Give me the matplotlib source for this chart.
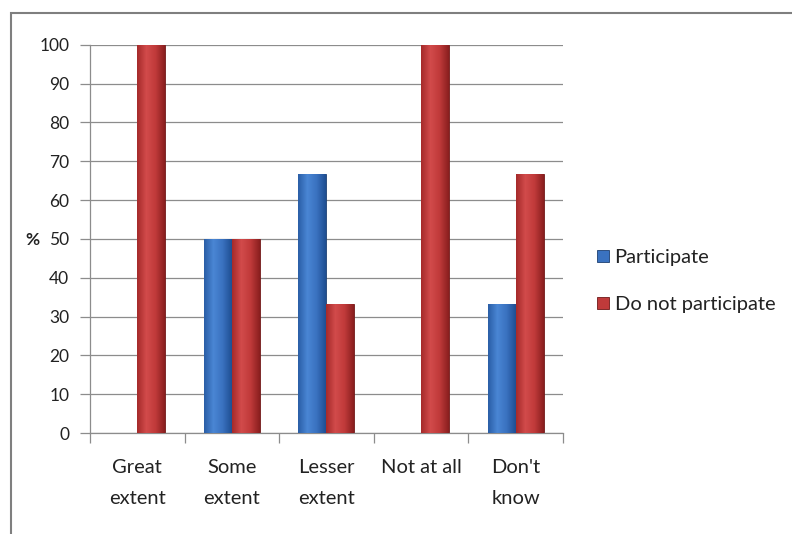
import numpy as np
import matplotlib
matplotlib.use("Agg")
import matplotlib.pyplot as plt
from matplotlib.patches import Rectangle
from matplotlib.colors import LinearSegmentedColormap

plt.rcParams["font.family"] = ["Lato", "DejaVu Sans"]

categories = ["Great\nextent", "Some\nextent", "Lesser\nextent", "Not at all", "Don't\nknow"]
participate = [0, 50, 66.7, 0, 33.3]
not_participate = [100, 50, 33.3, 100, 66.7]
yticks = list(range(0, 101, 10))

BLUE = ["#2a5ea6", "#4a86d4", "#3a72c0", "#1f4f92"]
RED = ["#a52a2a", "#d24b4b", "#c03a3a", "#8a1f1f"]


def gradient_bars(ax, bars, stops):
    cmap = LinearSegmentedColormap.from_list("g", stops)
    grad = np.linspace(0, 1, 64).reshape(1, -1)
    for b in bars:
        if b.get_height() <= 0:
            continue
        x0, y0 = b.get_x(), b.get_y()
        im = ax.imshow(grad, cmap=cmap, aspect="auto", zorder=3,
                       extent=[x0, x0 + b.get_width(), y0, y0 + b.get_height()])
        im.set_clip_path(b)


fig = plt.figure(figsize=(7.92, 5.34), dpi=100)
ax = fig.add_axes([0.1136, 0.189, 0.597, 0.727])

x = np.arange(len(categories))
w = 0.296
b1 = ax.bar(x - w / 2, participate, w, color=BLUE[2], edgecolor="#1d3f70",
            linewidth=0.6, zorder=2, label="Participate")
b2 = ax.bar(x + w / 2, not_participate, w, color=RED[2], edgecolor="#6e1818",
            linewidth=0.6, zorder=2, label="Do not participate")
gradient_bars(ax, b1, BLUE)
gradient_bars(ax, b2, RED)

ax.set_xlim(-0.5, len(categories) - 0.5)
ax.set_ylim(0, 100)
ax.set_yticks(yticks)
ax.yaxis.grid(True, color="#8c8c8c", linewidth=0.9)
ax.set_axisbelow(True)
for s in ["top", "right"]:
    ax.spines[s].set_visible(False)
for s in ["left", "bottom"]:
    ax.spines[s].set_color("#8c8c8c")
    ax.spines[s].set_linewidth(0.9)

ax.set_xticks(np.arange(-0.5, len(categories), 1.0))
ax.set_xticklabels([])
ax.set_xticks(x, minor=True)
ax.set_xticklabels(categories, minor=True, fontsize=14.5, color="#222222",
                   linespacing=2.0, va="top")
ax.tick_params(axis="x", which="major", length=7, color="#8c8c8c", width=0.9)
ax.tick_params(axis="x", which="minor", length=0, pad=19)
ax.tick_params(axis="y", length=7, color="#8c8c8c", width=0.9, pad=8,
               labelsize=12.5, labelcolor="#222222")

fig.text(0.041, 1 - 240 / 534, "%", fontsize=12.5, fontweight="bold",
         ha="center", va="center", color="#222222")

ax.legend(loc="center left", bbox_to_anchor=(1.035, 0.392), frameon=False,
          fontsize=14.5, handlelength=0.55, handleheight=0.55, handletextpad=0.3,
          labelspacing=1.5, labelcolor="#222222")

fig.patches.append(Rectangle((11 / 792, -0.1), 1.2, 1 - 13 / 534 + 0.1,
                             transform=fig.transFigure, fill=False,
                             edgecolor="#7f7f7f", linewidth=1.5))

fig.savefig("out.png", dpi=100)
